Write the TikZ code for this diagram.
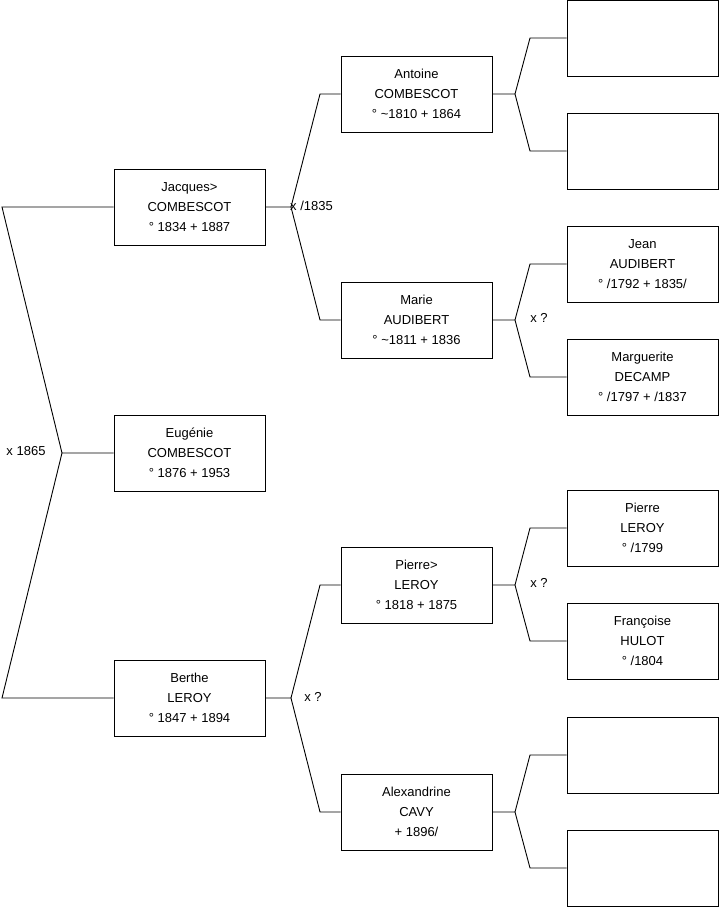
\documentclass[tikz,border=0pt]{standalone}
\usepackage{fontspec}
\setmainfont{Liberation Sans}
\begin{document}
\begin{tikzpicture}[
	x=1pt, y=-1pt,
	person/.style={ draw=black, line width=0.9pt, rectangle, minimum width=151pt, minimum height=76pt, inner sep=0pt, align=center, font=\fontsize{13}{20}\selectfont },
	mariage/.style={ font=\fontsize{13}{16}\selectfont, inner sep=0pt },
	lien/.style={ draw=black, line width=0.9pt }
]

\useasboundingbox (0,0) rectangle (719,908);

% generation 1
\node at (189.5,453) (eug) [person] {Eugénie\\COMBESCOT\\° 1876 + 1953};
% generation 2
\node at (189.5,207) (jac) [person] {Jacques>\\COMBESCOT\\° 1834 + 1887};
\node at (189.5,698) (ber) [person] {Berthe\\LEROY\\° 1847 + 1894};
% generation 3
\node at (416.5,94) (ant) [person] {Antoine\\COMBESCOT\\° \textasciitilde1810 + 1864};
\node at (416.5,320) (mar) [person] {Marie\\AUDIBERT\\° \textasciitilde1811 + 1836};
\node at (416.5,585) (pie) [person] {Pierre>\\LEROY\\° 1818 + 1875};
\node at (416.5,812) (ale) [person] {Alexandrine\\CAVY\\+ 1896/};
% generation 4
\node at (642.5,38) (inc1) [person] {};
\node at (642.5,151) (inc2) [person] {};
\node at (642.5,264) (jea) [person] {Jean\\AUDIBERT\\° /1792 + 1835/};
\node at (642.5,377) (mag) [person] {Marguerite\\DECAMP\\° /1797 + /1837};
\node at (642.5,528) (pil) [person] {Pierre\\LEROY\\° /1799};
\node at (642.5,641) (fra) [person] {Françoise\\HULOT\\° /1804};
\node at (642.5,755) (inc3) [person] {};
\node at (642.5,868) (inc4) [person] {};

% branches
\coordinate (s0) at (62,453);
\coordinate (s0h) at (2,207);
\coordinate (s0b) at (2,698);
\draw[lien] (eug.west) -- (s0) -- (s0h) -- (jac.west);
\draw[lien] (s0) -- (s0b) -- (ber.west);
\node at (26,451) (m0) [mariage] {x 1865};

\coordinate (s1) at (291,207);
\coordinate (s1h) at (320,94);
\coordinate (s1b) at (320,320);
\draw[lien] (jac.east) -- (s1) -- (s1h) -- (ant.west);
\draw[lien] (s1) -- (s1b) -- (mar.west);
\node at (290,206) (m1) [mariage,anchor=west] {x /1835};

\coordinate (s2) at (291,698);
\coordinate (s2h) at (320,585);
\coordinate (s2b) at (320,812);
\draw[lien] (ber.east) -- (s2) -- (s2h) -- (pie.west);
\draw[lien] (s2) -- (s2b) -- (ale.west);
\node at (313,697) (m2) [mariage] {x ?};

\coordinate (s3) at (515,94);
\coordinate (s3h) at (530,38);
\coordinate (s3b) at (530,151);
\draw[lien] (ant.east) -- (s3) -- (s3h) -- (inc1.west);
\draw[lien] (s3) -- (s3b) -- (inc2.west);

\coordinate (s4) at (515,320);
\coordinate (s4h) at (530,264);
\coordinate (s4b) at (530,377);
\draw[lien] (mar.east) -- (s4) -- (s4h) -- (jea.west);
\draw[lien] (s4) -- (s4b) -- (mag.west);
\node at (539,318) (m4) [mariage] {x ?};

\coordinate (s5) at (515,585);
\coordinate (s5h) at (530,528);
\coordinate (s5b) at (530,641);
\draw[lien] (pie.east) -- (s5) -- (s5h) -- (pil.west);
\draw[lien] (s5) -- (s5b) -- (fra.west);
\node at (539,583) (m5) [mariage] {x ?};

\coordinate (s6) at (515,812);
\coordinate (s6h) at (530,755);
\coordinate (s6b) at (530,868);
\draw[lien] (ale.east) -- (s6) -- (s6h) -- (inc3.west);
\draw[lien] (s6) -- (s6b) -- (inc4.west);

\end{tikzpicture}
\end{document}
